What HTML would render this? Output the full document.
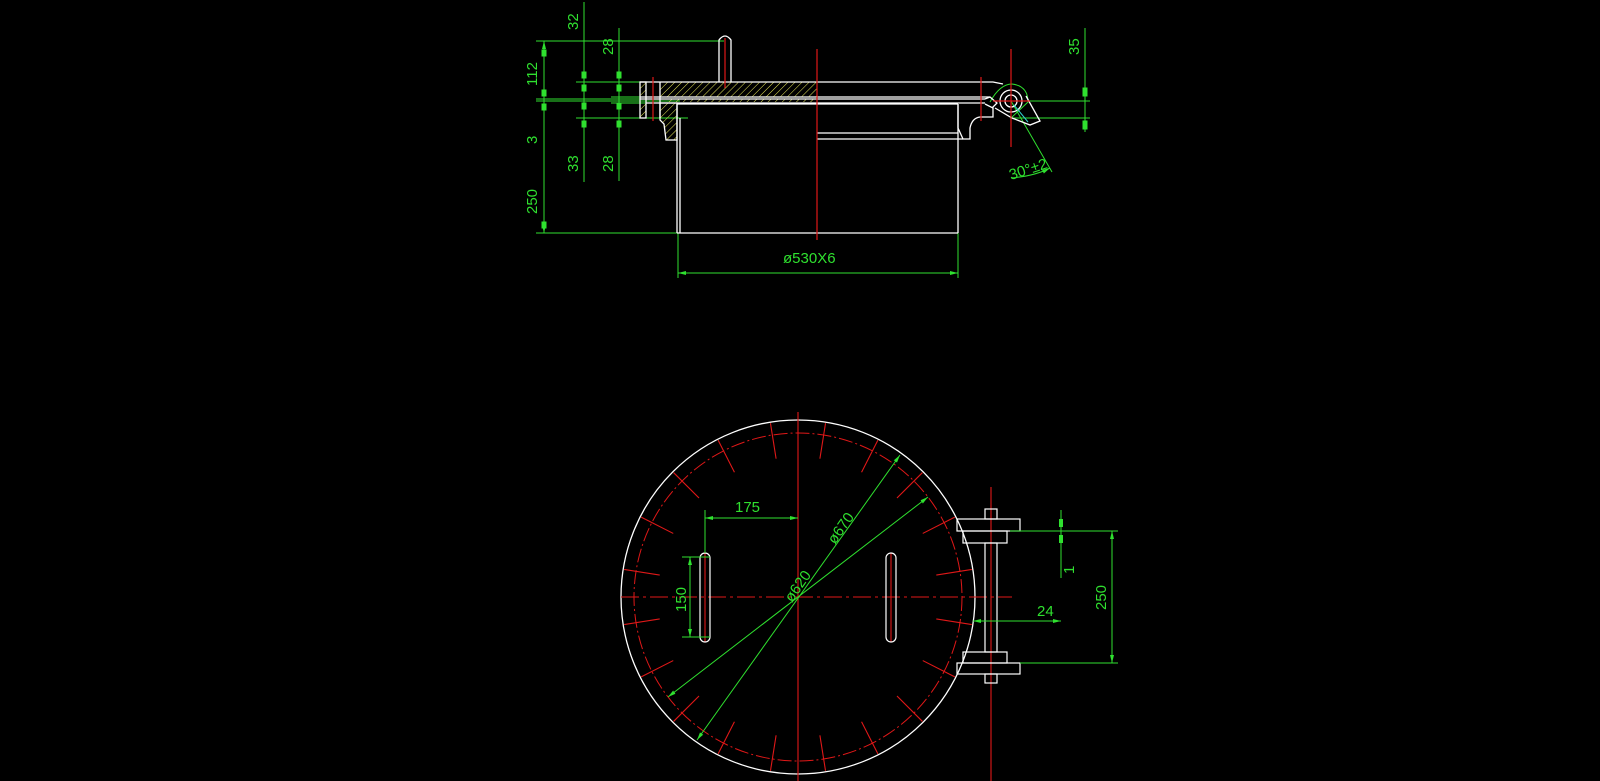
<!DOCTYPE html>
<html><head><meta charset="utf-8"><style>
html,body{margin:0;padding:0;background:#000;}
svg{display:block;}
text{font-family:"Liberation Sans",sans-serif;fill:#2fe02f;font-size:15px;}
</style></head><body>
<svg width="1600" height="781" viewBox="0 0 1600 781" xmlns="http://www.w3.org/2000/svg">
<defs>
<pattern id="h" width="5" height="5" patternUnits="userSpaceOnUse" patternTransform="rotate(45)">
<line x1="0" y1="0" x2="0" y2="5" stroke="#e8e85a" stroke-width="1"/>
</pattern>
<marker id="a" markerWidth="8" markerHeight="6" refX="8" refY="3" orient="auto-start-reverse" markerUnits="userSpaceOnUse"><path d="M0,1 L8,3 L0,5z" fill="#2fe02f"/></marker>
</defs>
<!-- ===== TOP VIEW ===== -->
<g stroke="#2fe02f" stroke-width="1" fill="none">
<line x1="544" y1="41" x2="544" y2="233" marker-start="url(#a)" marker-end="url(#a)"/>
<line x1="584" y1="2" x2="584" y2="182"/>
<line x1="619" y1="28" x2="619" y2="181"/>
<line x1="536" y1="41" x2="724" y2="41"/>
<line x1="576" y1="82" x2="640" y2="82"/>
<line x1="576" y1="118" x2="688" y2="118"/>
<line x1="536" y1="99" x2="680" y2="99"/>
<line x1="536" y1="101" x2="680" y2="101"/>
<line x1="611" y1="97" x2="680" y2="97"/>
<line x1="611" y1="103" x2="680" y2="103"/>
<line x1="536" y1="233" x2="677" y2="233"/>
<line x1="678" y1="233" x2="678" y2="278"/>
<line x1="958" y1="233" x2="958" y2="278"/>
<line x1="678" y1="273" x2="958" y2="273" marker-start="url(#a)" marker-end="url(#a)"/>
<line x1="1085" y1="28" x2="1085" y2="132"/>
<line x1="1028" y1="101" x2="1090" y2="101"/>
<line x1="1010" y1="118" x2="1090" y2="118"/>
<path d="M1011,101 L1052,172"/>
<path d="M1011,178 Q1035,176 1050,168" marker-end="url(#a)"/>
<path d="M990,102 Q1000,84 1012,84 Q1028,86 1028,102 L1011,118"/>
</g>
<g fill="#2fe02f" stroke="#2fe02f">
<rect x="542" y="50" width="4" height="6"/><rect x="542" y="90" width="4" height="6"/><rect x="542" y="104" width="4" height="6"/><rect x="542" y="222" width="4" height="6"/>
<rect x="582" y="72" width="4" height="6"/><rect x="582" y="85" width="4" height="6"/><rect x="582" y="103" width="4" height="6"/><rect x="582" y="121" width="4" height="6"/>
<rect x="617" y="72" width="4" height="6"/><rect x="617" y="85" width="4" height="6"/><rect x="617" y="103" width="4" height="6"/><rect x="617" y="121" width="4" height="6"/>
<rect x="1083" y="88" width="4" height="8"/><rect x="1083" y="121" width="4" height="8"/>
</g>
<g>
<text transform="translate(578,30) rotate(-90)">32</text>
<text transform="translate(613,55) rotate(-90)">28</text>
<text transform="translate(537,86) rotate(-90)">112</text>
<text transform="translate(537,144) rotate(-90)">3</text>
<text transform="translate(537,214) rotate(-90)">250</text>
<text transform="translate(578,172) rotate(-90)">33</text>
<text transform="translate(613,172) rotate(-90)">28</text>
<text transform="translate(1079,55) rotate(-90)">35</text>
<text x="783" y="263">ø530X6</text>
<text transform="translate(1011,180) rotate(-18)">30°±2</text>
</g>
<!-- hatched parts -->
<rect x="660" y="82" width="157" height="15" fill="url(#h)"/>
<rect x="640" y="82" width="6" height="15" fill="url(#h)"/>
<rect x="640" y="103" width="6" height="15" fill="url(#h)"/>
<path d="M660,103 L677,103 L677,140 L666,140 L664,124 L660,120z" fill="url(#h)"/>
<rect x="665" y="99" width="150" height="3" fill="url(#h)"/>
<g stroke="#fff" stroke-width="1.3" fill="none">
<rect x="640" y="82" width="6" height="36"/>
<path d="M640,82 L993,82 L1003,84"/>
<line x1="660" y1="82" x2="660" y2="118"/>
<line x1="640" y1="97" x2="990" y2="97"/>
<line x1="640" y1="99" x2="985" y2="99"/>
<line x1="646" y1="103" x2="985" y2="103"/>
<line x1="677" y1="104" x2="958" y2="104"/>
<path d="M660,103 L677,103 L677,140 L666,140 L664,124 L660,120z"/>
<path d="M719,82 L719,40 Q725,32 731,40 L731,82"/>
<line x1="677" y1="104" x2="677" y2="233"/>
<line x1="680" y1="118" x2="680" y2="233"/>
<line x1="958" y1="104" x2="958" y2="233"/>
<line x1="677" y1="233" x2="958" y2="233"/>
<line x1="817" y1="133" x2="958" y2="133"/>
<line x1="817" y1="139" x2="963" y2="139"/>
<path d="M958,104 L958,128 L963,139 L970,139 L970,128 Q972,118 980,117 L993,117 L993,108 L985,104"/>
<path d="M985,99 L990,97 L997,103 L992,108"/>
<path d="M995,108 L1012,118 L1030,125 L1040,121 L1026,96"/>
<circle cx="1011" cy="101" r="11"/>
<circle cx="1011" cy="101" r="6"/>
</g>
<g stroke="#e01818" stroke-width="1.2">
<line x1="817" y1="49" x2="817" y2="240"/>
<line x1="653" y1="77" x2="653" y2="121"/>
<line x1="725" y1="38" x2="725" y2="88"/>
<line x1="981" y1="77" x2="981" y2="121"/>
<line x1="1011" y1="49" x2="1011" y2="147"/>
<line x1="993" y1="101" x2="1030" y2="101"/>
</g>
<line x1="1014" y1="105" x2="1028" y2="122" stroke="#30d0d0"/>
<!-- ===== BOTTOM VIEW ===== -->
<circle cx="798" cy="597" r="177" stroke="#fff" stroke-width="1.3" fill="none"/>
<circle cx="798" cy="597" r="164" stroke="#e01818" stroke-width="1" fill="none" stroke-dasharray="14,3,2,3"/>
<g stroke="#e01818" stroke-width="1.1" id="ticks">
<line x1="798" y1="597" x2="798" y2="597"/>
</g>
<g stroke="#e01818" stroke-width="1.1">
<line x1="798" y1="412" x2="798" y2="781"/>
<line x1="621" y1="597" x2="1012" y2="597" stroke-dasharray="18,4,3,4"/>
<line x1="705" y1="553" x2="705" y2="642"/>
<line x1="891" y1="553" x2="891" y2="642"/>
<line x1="991" y1="487" x2="991" y2="781"/>
</g>
<g stroke="#e01818" stroke-width="1.1" transform="translate(798,597)">
<line x1="0" y1="-140" x2="0" y2="-176" transform="rotate(9)"/><line x1="0" y1="-140" x2="0" y2="-176" transform="rotate(27)"/>
<line x1="0" y1="-140" x2="0" y2="-176" transform="rotate(45)"/><line x1="0" y1="-140" x2="0" y2="-176" transform="rotate(63)"/>
<line x1="0" y1="-140" x2="0" y2="-176" transform="rotate(81)"/><line x1="0" y1="-140" x2="0" y2="-176" transform="rotate(99)"/>
<line x1="0" y1="-140" x2="0" y2="-176" transform="rotate(117)"/><line x1="0" y1="-140" x2="0" y2="-176" transform="rotate(135)"/>
<line x1="0" y1="-140" x2="0" y2="-176" transform="rotate(153)"/><line x1="0" y1="-140" x2="0" y2="-176" transform="rotate(171)"/>
<line x1="0" y1="-140" x2="0" y2="-176" transform="rotate(189)"/><line x1="0" y1="-140" x2="0" y2="-176" transform="rotate(207)"/>
<line x1="0" y1="-140" x2="0" y2="-176" transform="rotate(225)"/><line x1="0" y1="-140" x2="0" y2="-176" transform="rotate(243)"/>
<line x1="0" y1="-140" x2="0" y2="-176" transform="rotate(261)"/><line x1="0" y1="-140" x2="0" y2="-176" transform="rotate(279)"/>
<line x1="0" y1="-140" x2="0" y2="-176" transform="rotate(297)"/><line x1="0" y1="-140" x2="0" y2="-176" transform="rotate(315)"/>
<line x1="0" y1="-140" x2="0" y2="-176" transform="rotate(333)"/><line x1="0" y1="-140" x2="0" y2="-176" transform="rotate(351)"/>
</g>
<g stroke="#fff" stroke-width="1.2" fill="none">
<rect x="700" y="553" width="10" height="89" rx="5"/>
<rect x="886" y="553" width="10" height="89" rx="5"/>
<rect x="985" y="509" width="12" height="10"/>
<rect x="957" y="519" width="63" height="12"/>
<rect x="963" y="531" width="44" height="12"/>
<rect x="985" y="543" width="12" height="109"/>
<rect x="963" y="652" width="44" height="11"/>
<rect x="957" y="663" width="63" height="11"/>
<rect x="985" y="674" width="12" height="9"/>
</g>
<g stroke="#2fe02f" stroke-width="1" fill="none">
<line x1="705" y1="510" x2="705" y2="553"/>
<line x1="705" y1="518" x2="798" y2="518" marker-start="url(#a)" marker-end="url(#a)"/>
<line x1="682" y1="557" x2="710" y2="557"/>
<line x1="682" y1="637" x2="710" y2="637"/>
<line x1="690" y1="557" x2="690" y2="637" marker-start="url(#a)" marker-end="url(#a)"/>
<line x1="668" y1="697" x2="928" y2="497" marker-start="url(#a)" marker-end="url(#a)"/>
<line x1="697" y1="740" x2="900" y2="455" marker-start="url(#a)" marker-end="url(#a)"/>
<line x1="1010" y1="531" x2="1118" y2="531"/>
<line x1="1020" y1="663" x2="1118" y2="663"/>
<line x1="1112" y1="531" x2="1112" y2="663" marker-start="url(#a)" marker-end="url(#a)"/>
<line x1="1061" y1="510" x2="1061" y2="578"/>
<line x1="973" y1="621" x2="1061" y2="621" marker-start="url(#a)" marker-end="url(#a)"/>
</g>
<g fill="#2fe02f"><rect x="1059" y="519" width="4" height="8"/><rect x="1059" y="535" width="4" height="8"/></g>
<text x="735" y="512">175</text>
<text transform="translate(686,612) rotate(-90)">150</text>
<text transform="translate(835,545) rotate(-55)">ø670</text>
<text transform="translate(792,603) rotate(-55)">ø620</text>
<text transform="translate(1106,610) rotate(-90)">250</text>
<text transform="translate(1074,574) rotate(-90)">1</text>
<text x="1037" y="616">24</text>
</svg>
</body></html>
